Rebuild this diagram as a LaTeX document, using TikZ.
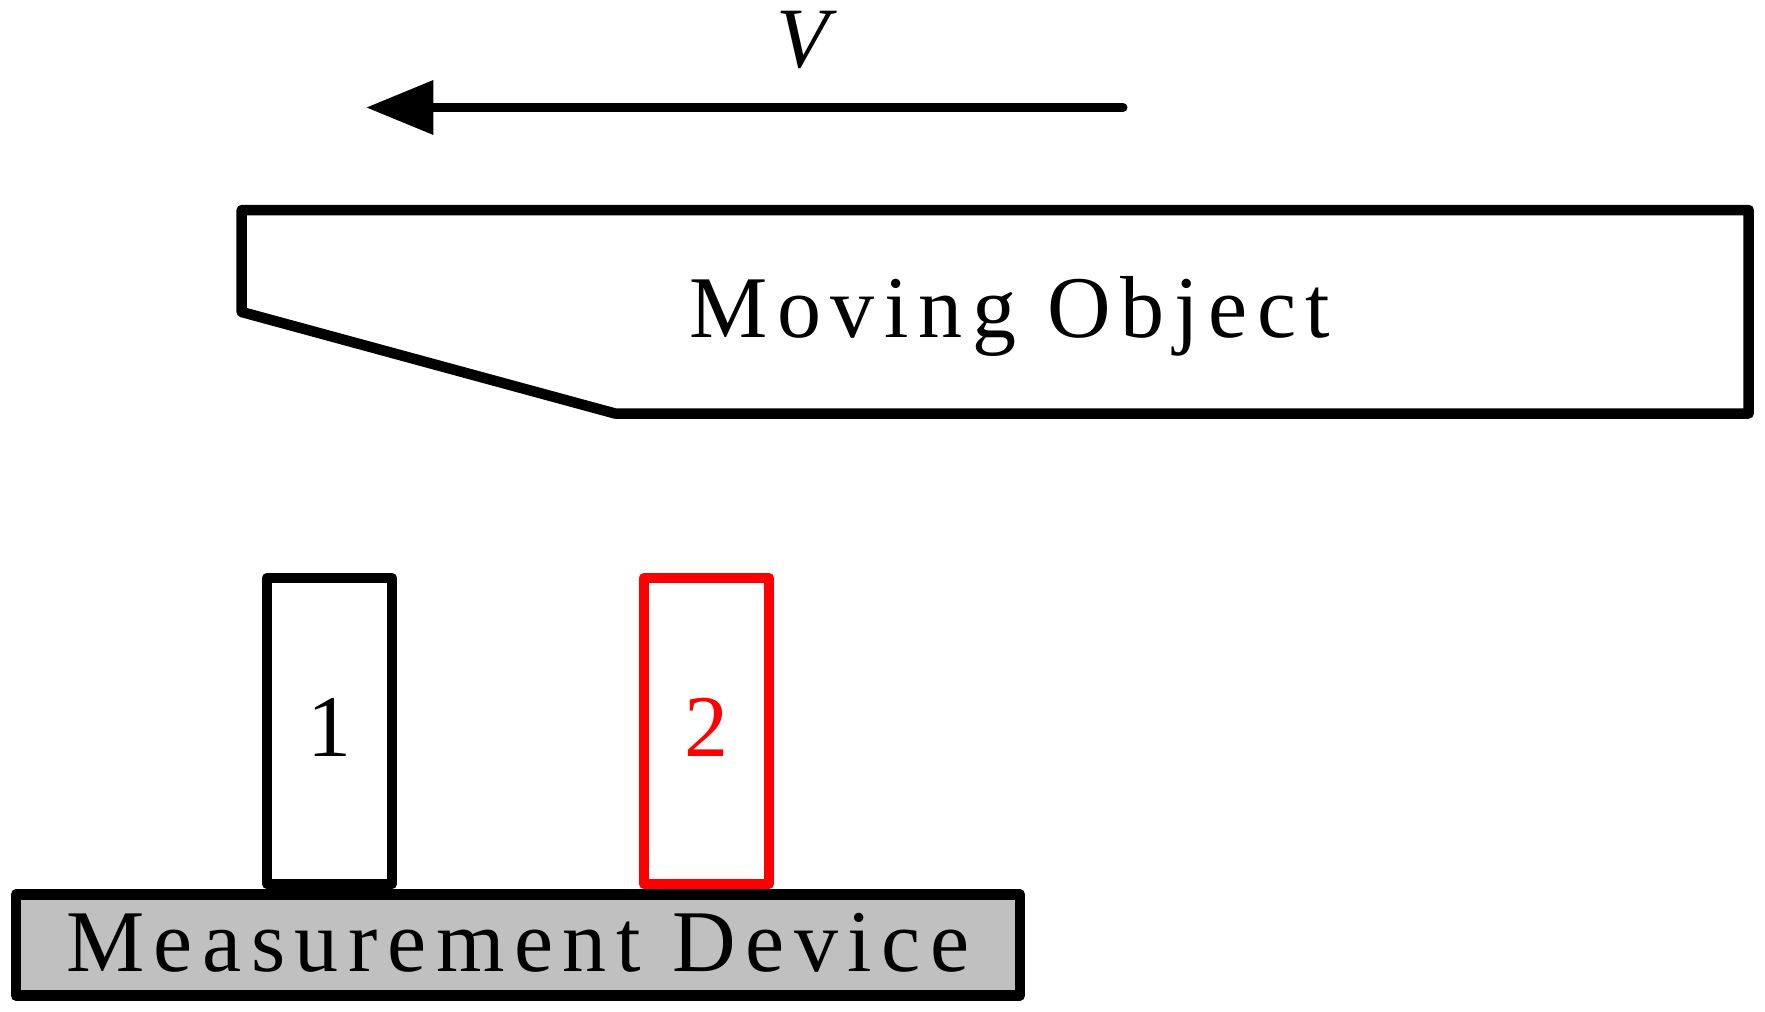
\documentclass[tikz,border=0pt]{standalone}
\usepackage{fontspec}
\setmainfont{Liberation Serif}
\newfontfamily\lsfont[LetterSpace=10.9]{Liberation Serif}
\usetikzlibrary{arrows.meta}
\definecolor{devgray}{HTML}{C0C0C0}
\definecolor{sred}{HTML}{FF0000}
\begin{document}
\begin{tikzpicture}[x=1pt,y=-1pt,
  bigtext/.style={font=\fontsize{88}{100}\selectfont\lsfont},
  outline/.style={line width=10.5pt, line join=round},
  sensorbox/.style={draw, outline, minimum width=125pt, minimum height=306pt,
    inner sep=0pt, text height=59.5pt, text depth=8pt, bigtext},
  devbox/.style={draw, outline, fill=devgray, minimum width=1004.3pt,
    minimum height=100.8pt, inner sep=0pt, text height=59.5pt, text depth=7pt, bigtext},
  velarrow/.style={line width=9pt, line cap=round,
    -{Triangle[length=66.7pt,width=55pt,line width=0pt]}}
]
\useasboundingbox (0,0) rectangle (1765,1012);

% velocity arrow
\coordinate (vtail) at (1123,107.5);
\coordinate (vhead) at (366.7,107.5);
\draw[velarrow] (vtail) -- (vhead);
\node[font=\fontsize{86}{100}\selectfont\itshape, anchor=base, inner sep=0pt] (vlabel) at (802.5,67) {V};

% moving object
\coordinate (mo1) at (241.7,210);
\coordinate (mo2) at (1748.7,210);
\coordinate (mo3) at (1748.7,413.5);
\coordinate (mo4) at (615,413.5);
\coordinate (mo5) at (241.7,312);
\draw[outline] (mo1) -- (mo2) -- (mo3) -- (mo4) -- (mo5) -- cycle;
\node[bigtext, anchor=base, inner sep=0pt] (motext) at (1010,337) {Moving Object};

% sensors
\node[sensorbox] (s1) at (329.5,731) {1};
\node[sensorbox, draw=sred, text=sred] (s2) at (706.5,731) {2};

% measurement device
\node[devbox] (dev) at (517.9,945.1) {Measurement Device};
\end{tikzpicture}
\end{document}
